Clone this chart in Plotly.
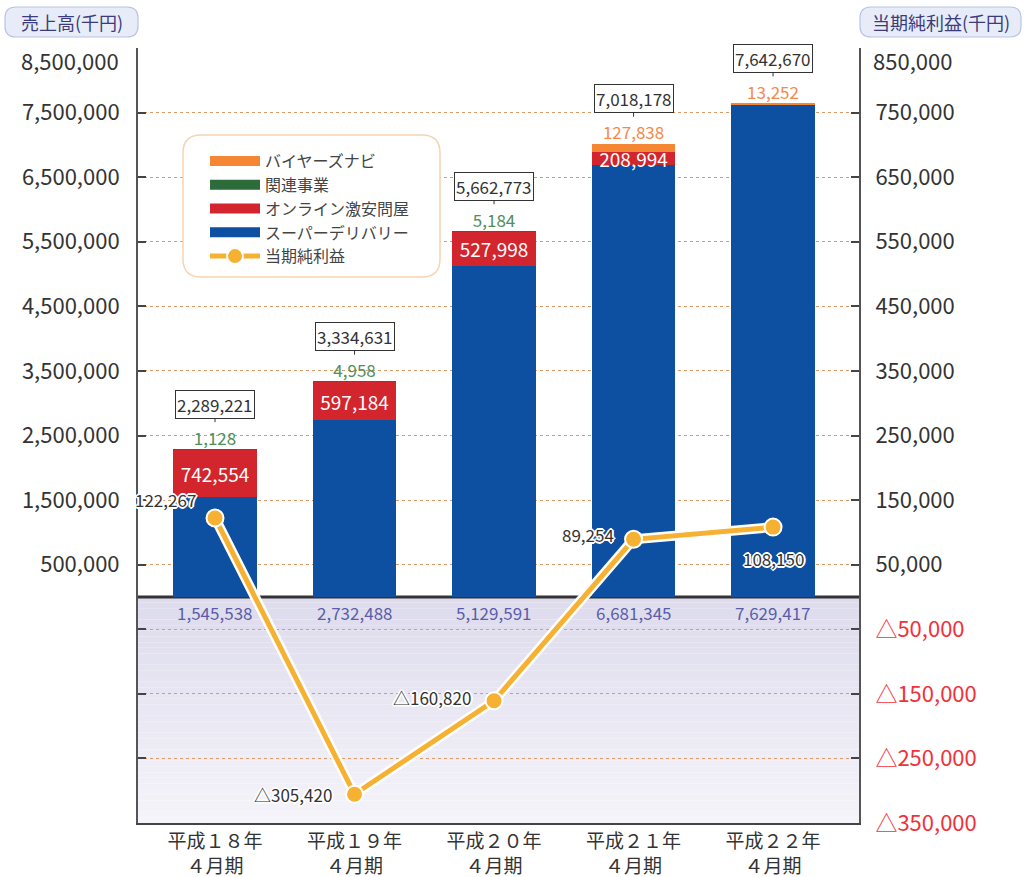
import plotly.graph_objects as go

# ---------------- data ----------------
categories = ["平成１８年<br>４月期", "平成１９年<br>４月期", "平成２０年<br>４月期",
              "平成２１年<br>４月期", "平成２２年<br>４月期"]
super_delivery = [1545538, 2732488, 5129591, 6681345, 7629417]   # スーパーデリバリー
online_tonya = [742554, 597184, 527998, 208994, 0]               # オンライン激安問屋
kanren = [1128, 4958, 5184, 0, 0]                                 # 関連事業
buyers_navi = [0, 0, 0, 127838, 13252]                            # バイヤーズナビ
totals = [2289221, 3334631, 5662773, 7018178, 7642670]            # 売上高合計
net_income = [122267, -305420, -160820, 89254, 108150]           # 当期純利益

left_ticks = [500000, 1500000, 2500000, 3500000, 4500000, 5500000, 6500000, 7500000, 8500000]
left_neg_grid = [-500000, -1500000, -2500000]
right_ticks = [50000, 150000, 250000, 350000, 450000, 550000, 650000, 750000, 850000]
right_neg_ticks = [-50000, -150000, -250000, -350000]

# ---------------- style ----------------
FONT = "Noto Sans CJK JP"
BLUE = "#0d4fa0"
RED = "#d3252d"
GREEN = "#2e6b3a"
ORANGE = "#f58634"
LINE = "#f6b132"
GRID = "#dc9a66"
TXT = "#333333"
NEG = "#f0323c"

W, H = 1025, 877
L, R, T, B = 138, 859, 48, 823


def px(v):
    return (v - L) / (R - L)


def py(v):
    return (B - v) / (B - T)


def rrect(x0, y0, x1, y1, r):
    X0, X1 = px(x0), px(x1)
    Y0, Y1 = py(y0), py(y1)
    rx = r / (R - L)
    ry = r / (B - T)
    return (f"M{X0+rx},{Y0} L{X1-rx},{Y0} Q{X1},{Y0} {X1},{Y0-ry} "
            f"L{X1},{Y1+ry} Q{X1},{Y1} {X1-rx},{Y1} L{X0+rx},{Y1} "
            f"Q{X0},{Y1} {X0},{Y1+ry} L{X0},{Y0-ry} Q{X0},{Y0} {X0+rx},{Y0} Z")


x = list(range(len(categories)))
stack_top = [a + b + c + d for a, b, c, d in zip(super_delivery, online_tonya, kanren, buyers_navi)]

fig = go.Figure()

bar_common = dict(x=x, width=0.6, showlegend=False, hoverinfo="skip", marker_line_width=0)
fig.add_bar(y=super_delivery, marker_color=BLUE, name="スーパーデリバリー", **bar_common)
fig.add_bar(y=online_tonya, marker_color=RED, name="オンライン激安問屋",
            text=[f"{v:,}" if v else "" for v in online_tonya],
            textposition="inside", insidetextanchor="middle", textangle=0,
            constraintext="none",
            textfont=dict(color="white", size=19, family=FONT), **bar_common)
fig.add_bar(y=kanren, marker_color=GREEN, name="関連事業", **bar_common)
fig.add_bar(y=buyers_navi, marker_color=ORANGE, name="バイヤーズナビ", **bar_common)

# small segment values above bars
small_vals = [b if b else k for b, k in zip(buyers_navi, kanren)]
small_cols = ["#f5894a" if b else "#4f8f5a" for b in buyers_navi]
fig.add_scatter(x=x, y=stack_top, mode="text",
                text=[f"{v:,}" for v in small_vals], textposition="top center",
                textfont=dict(color=small_cols, size=17, family=FONT),
                showlegend=False, hoverinfo="skip", cliponaxis=False)

# legend entries
for nm, col in [("バイヤーズナビ", ORANGE), ("関連事業", GREEN),
                ("オンライン激安問屋", RED), ("スーパーデリバリー", BLUE)]:
    fig.add_scatter(x=[None], y=[None], mode="lines", name=nm,
                    line=dict(color=col, width=12), hoverinfo="skip")

# net income line (right axis)
fig.add_scatter(x=x, y=net_income, yaxis="y2", mode="lines",
                line=dict(color="white", width=10), showlegend=False, hoverinfo="skip")
fig.add_scatter(x=x, y=net_income, yaxis="y2", mode="lines+markers", name="当期純利益",
                line=dict(color=LINE, width=5),
                marker=dict(size=17, color=LINE, line=dict(color="white", width=2)))

shapes = []
# gradient in negative band
n = 40
c_top = (221, 219, 236)
c_bot = (245, 244, 250)
for k in range(n):
    t = (k + 0.5) / n
    c = tuple(round(c_top[j] + (c_bot[j] - c_top[j]) * t) for j in range(3))
    shapes.append(dict(type="rect", xref="paper", yref="y", x0=0, x1=1,
                       y0=-3500000 * k / n, y1=-3500000 * (k + 1) / n,
                       fillcolor=f"rgb{c}", line_width=0, layer="below"))
# zero line
shapes.append(dict(type="line", xref="paper", yref="y", x0=0, x1=1, y0=0, y1=0,
                   line=dict(color="#333333", width=3), layer="between"))
# legend box
shapes.append(dict(type="path", xref="paper", yref="paper", path=rrect(183, 135, 440, 277, 18),
                   fillcolor="white", line=dict(color="#f8d3b2", width=1.5), layer="above"))
# axis title boxes
shapes.append(dict(type="path", xref="paper", yref="paper", path=rrect(5, 7, 138, 37, 11),
                   fillcolor="#e7ecf8", line=dict(color="#b8c3e3", width=1.2), layer="above"))
shapes.append(dict(type="path", xref="paper", yref="paper", path=rrect(860, 7, 1021, 37, 11),
                   fillcolor="#e7ecf8", line=dict(color="#b8c3e3", width=1.2), layer="above"))

annotations = [
    dict(xref="paper", yref="paper", x=px(71.5), y=py(22), text="売上高(千円)", showarrow=False,
         font=dict(size=18, color="#3c3c7c", family=FONT), xanchor="center", yanchor="middle"),
    dict(xref="paper", yref="paper", x=px(940.5), y=py(22), text="当期純利益(千円)", showarrow=False,
         font=dict(size=18, color="#3c3c7c", family=FONT), xanchor="center", yanchor="middle"),
    # top tick labels, nudged down as in the reference
    dict(xref="paper", yref="y", x=0, y=left_ticks[-1], text=f"{left_ticks[-1]:,}", showarrow=False,
         xanchor="right", yanchor="middle", xshift=-17, yshift=-12,
         font=dict(size=22, color=TXT, family=FONT)),
    dict(xref="paper", yref="y2", x=1, y=right_ticks[-1], text=f"{right_ticks[-1]:,}", showarrow=False,
         xanchor="left", yanchor="middle", xshift=12, yshift=-12,
         font=dict(size=22, color=TXT, family=FONT)),
]
# blue segment values below the zero line
for i, v in enumerate(super_delivery):
    annotations.append(dict(x=i, y=0, xref="x", yref="y", text=f"{v:,}", showarrow=False,
                            yanchor="middle", yshift=-16,
                            font=dict(size=17, color="#5b5dab", family=FONT)))
# total callouts
for i in x:
    annotations.append(dict(x=i, y=stack_top[i], xref="x", yref="y", text=f"{totals[i]:,}",
                            showarrow=True, arrowhead=0, arrowwidth=1, arrowcolor="#333",
                            ax=0, ay=-18, yshift=27, bordercolor="#333", borderwidth=1,
                            borderpad=1, bgcolor="white",
                            font=dict(size=17, color=TXT, family=FONT)))
# net income labels
halo = ("1px 1px 0 #fff, -1px -1px 0 #fff, 1px -1px 0 #fff, -1px 1px 0 #fff, "
        "0 2px 0 #fff, 0 -2px 0 #fff, 2px 0 0 #fff, -2px 0 0 #fff")
label_shift = [(-50, 18), (-62, 0), (-62, 3), (-46, 5), (0, -31)]
for i, v in enumerate(net_income):
    lab = f"{v:,}" if v >= 0 else "△" + f"{-v:,}"
    dx, dy = label_shift[i]
    annotations.append(dict(x=i, y=v, xref="x", yref="y2", text=lab, showarrow=False,
                            xshift=dx, yshift=dy,
                            font=dict(size=17, color=TXT, family=FONT, shadow=halo)))

fig.update_layout(
    width=W, height=H,
    margin=dict(l=L, r=W - R, t=T, b=H - B, pad=0, autoexpand=False),
    paper_bgcolor="white", plot_bgcolor="white",
    barmode="stack", bargap=0.4,
    font=dict(family=FONT, color=TXT),
    showlegend=True,
    legend=dict(x=px(205), y=py(144), xanchor="left", yanchor="top",
                bgcolor="rgba(0,0,0,0)", borderwidth=0, itemwidth=50,
                font=dict(size=16, color="#444", family=FONT), tracegroupgap=0,
                traceorder="normal"),
    xaxis=dict(range=[-0.552, 4.616], tickvals=x, ticktext=categories, automargin=False,
               showgrid=False, zeroline=False, showline=True, linecolor="#444", linewidth=2,
               ticks="", tickfont=dict(size=19, color=TXT, family=FONT), fixedrange=True),
    yaxis=dict(range=[-3500000, 8500000], automargin=False,
               tickvals=left_ticks + left_neg_grid,
               ticktext=[f"{v:,}" for v in left_ticks[:-1]] + [""] + [""] * len(left_neg_grid),
               showgrid=True, gridcolor=GRID, griddash="dot", gridwidth=1.3,
               zeroline=False, showline=True, linecolor="#555", linewidth=2,
               ticks="inside", ticklen=8, tickwidth=1.5, tickcolor="#444",
               ticklabelstandoff=12,
               tickfont=dict(size=22, color=TXT, family=FONT)),
    yaxis2=dict(range=[-350000, 850000], overlaying="y", side="right", automargin=False,
                tickvals=right_ticks + right_neg_ticks,
                ticktext=[f"{v:,}" for v in right_ticks[:-1]] + [""] +
                         [f"<span style='color:{NEG}'>△{-v:,}</span>" for v in right_neg_ticks],
                showgrid=False, zeroline=False, showline=True, linecolor="#555", linewidth=2,
                ticks="inside", ticklen=8, tickwidth=1.5, tickcolor="#444",
                ticklabelstandoff=10,
                tickfont=dict(size=22, color=TXT, family=FONT)),
    shapes=shapes,
    annotations=annotations,
)

fig.write_html("out.html", config={"displayModeBar": False},
               post_script="document.body.style.margin='0';")
